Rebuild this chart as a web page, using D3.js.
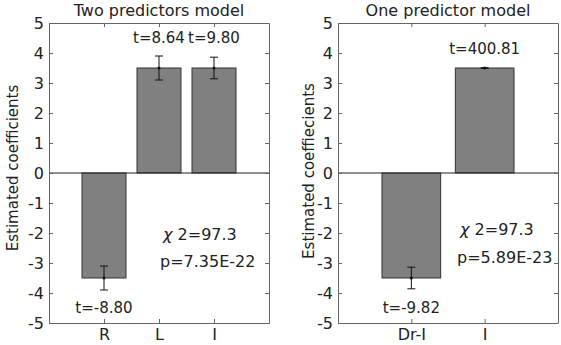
<!DOCTYPE html>
<html>
<head>
<meta charset="utf-8">
<script src="https://cdn.jsdelivr.net/npm/d3@7"></script>
<style>
  body { margin: 0; background: #fff; }
  text { font-family: "DejaVu Sans", sans-serif; fill: #222; }
</style>
</head>
<body>
<div id="chart"></div>
<script>
// Data
const yTicks = [-5, -4, -3, -2, -1, 0, 1, 2, 3, 4, 5];

const leftCategories = ['R', 'L', 'I'];
const leftValues = [-3.5, 3.5, 3.5];
const leftErrors = [0.4, 0.4, 0.36];
const leftTLabels = ['t=-8.80', 't=8.64', 't=9.80'];
const leftChi = '2=97.3';
const leftP = 'p=7.35E-22';

const rightCategories = ['Dr-I', 'I'];
const rightValues = [-3.5, 3.5];
const rightErrors = [0.36, 0.01];
const rightTLabels = ['t=-9.82', 't=400.81'];
const rightChi = '2=97.3';
const rightP = 'p=5.89E-23';

const svg = d3.select('#chart')
    .append('svg')
    .attr('width', 561)
    .attr('height', 345)

function panel(opts) {
    const {left, title, ylabel, ylabelX, ylabelY, categories, values, errors, tLabels, chi, p, statsX, statsY, tTop} = opts
    const width = 220
    const top = 23, bottom = 323

    const g = svg.append('g')
        .attr('transform', `translate(${left}, 0)`)

    const xScale = d3.scaleLinear()
        .domain([0, categories.length + 1])
        .range([0, width])

    const yScale = d3.scaleLinear()
        .domain([-5, 5])
        .range([bottom, top])

    const step = xScale(1) - xScale(0)
    const barW = step * 0.8

    // bars
    g.selectAll('rect.bar')
        .data(values)
        .join('rect')
        .attr('class', 'bar')
        .attr('x', (d, i) => xScale(i + 1) - barW / 2)
        .attr('y', d => yScale(Math.max(0, d)))
        .attr('width', barW)
        .attr('height', d => Math.abs(yScale(d) - yScale(0)))
        .attr('fill', '#808080')
        .attr('stroke', '#333')
        .attr('stroke-width', 1)

    // error bars
    const eb = g.selectAll('g.err')
        .data(values)
        .join('g')
        .attr('class', 'err')
    eb.append('line')
        .attr('x1', (d, i) => xScale(i + 1))
        .attr('x2', (d, i) => xScale(i + 1))
        .attr('y1', (d, i) => yScale(d - errors[i]))
        .attr('y2', (d, i) => yScale(d + errors[i]))
        .attr('stroke', '#111')
    eb.selectAll('line.cap')
        .data((d, i) => [[i, d - errors[i]], [i, d + errors[i]]])
        .join('line')
        .attr('class', 'cap')
        .attr('x1', d => xScale(d[0] + 1) - 4)
        .attr('x2', d => xScale(d[0] + 1) + 4)
        .attr('y1', d => yScale(d[1]))
        .attr('y2', d => yScale(d[1]))
        .attr('stroke', '#111')
    eb.append('circle')
        .attr('cx', (d, i) => xScale(i + 1))
        .attr('cy', d => yScale(d))
        .attr('r', 1.5)
        .attr('fill', '#111')

    // zero line
    g.append('line')
        .attr('x1', 0).attr('x2', width)
        .attr('y1', yScale(0)).attr('y2', yScale(0))
        .attr('stroke', '#222')

    // axes
    const axisStyle = sel => {
        sel.select('.domain').attr('stroke', '#666')
        sel.selectAll('.tick line').attr('stroke', '#666')
        sel.selectAll('.tick text')
            .attr('fill', '#222')
            .style('font-size', '16px')
    }

    g.append('g')
        .call(d3.axisLeft(yScale).tickValues(yTicks).tickSizeInner(-4).tickSizeOuter(0)
            .tickFormat(d => String(d)))
        .call(axisStyle)
        .selectAll('.tick text').attr('x', -5)
    g.append('g')
        .attr('transform', `translate(${width}, 0)`)
        .call(d3.axisRight(yScale).tickValues(yTicks).tickSizeInner(-4).tickSizeOuter(0).tickFormat(''))
        .call(axisStyle)

    const xTickVals = categories.map((c, i) => i + 1)
    g.append('g')
        .attr('transform', `translate(0, ${bottom})`)
        .call(d3.axisBottom(xScale).tickValues(xTickVals).tickSizeInner(-4).tickSizeOuter(0)
            .tickFormat((d, i) => categories[i]))
        .call(axisStyle)
        .selectAll('.tick text').attr('y', 6)
    g.append('g')
        .attr('transform', `translate(0, ${top})`)
        .call(d3.axisTop(xScale).tickValues(xTickVals).tickSizeInner(-4).tickSizeOuter(0).tickFormat(''))
        .call(axisStyle)

    // title
    g.append('text')
        .attr('x', width / 2)
        .attr('y', 16)
        .attr('text-anchor', 'middle')
        .style('font-size', '16px')
        .text(title)

    // y label
    g.append('text')
        .attr('transform', `translate(${ylabelX}, ${ylabelY}) rotate(-90)`)
        .attr('text-anchor', 'middle')
        .style('font-size', '15px')
        .text(ylabel)

    // t labels
    g.selectAll('text.tlab')
        .data(values)
        .join('text')
        .attr('class', 'tlab')
        .attr('x', (d, i) => xScale(i + 1))
        .attr('y', (d, i) => d < 0 ? 313 : tTop[i])
        .attr('text-anchor', 'middle')
        .style('font-size', '15px')
        .text((d, i) => tLabels[i])

    // stats
    const chiText = g.append('text')
        .attr('x', statsX[0])
        .attr('y', statsY[0])
        .style('font-size', '16px')
    chiText.append('tspan').style('font-style', 'italic').text('χ ')
    chiText.append('tspan').text(chi)
    g.append('text')
        .attr('x', statsX[1])
        .attr('y', statsY[1])
        .style('font-size', '16px')
        .text(p)
}

panel({
    left: 49, title: 'Two predictors model', ylabel: 'Estimated coefficients', ylabelX: -31, ylabelY: 168,
    categories: leftCategories, values: leftValues, errors: leftErrors,
    tLabels: leftTLabels, chi: leftChi, p: leftP,
    statsX: [114, 111], statsY: [240, 267], tTop: [0, 43, 43]
})

panel({
    left: 338, title: 'One predictor model', ylabel: 'Estimated coeffiecients', ylabelX: -24, ylabelY: 171,
    categories: rightCategories, values: rightValues, errors: rightErrors,
    tLabels: rightTLabels, chi: rightChi, p: rightP,
    statsX: [122, 119], statsY: [235, 263], tTop: [0, 54]
})
</script>
</body>
</html>
